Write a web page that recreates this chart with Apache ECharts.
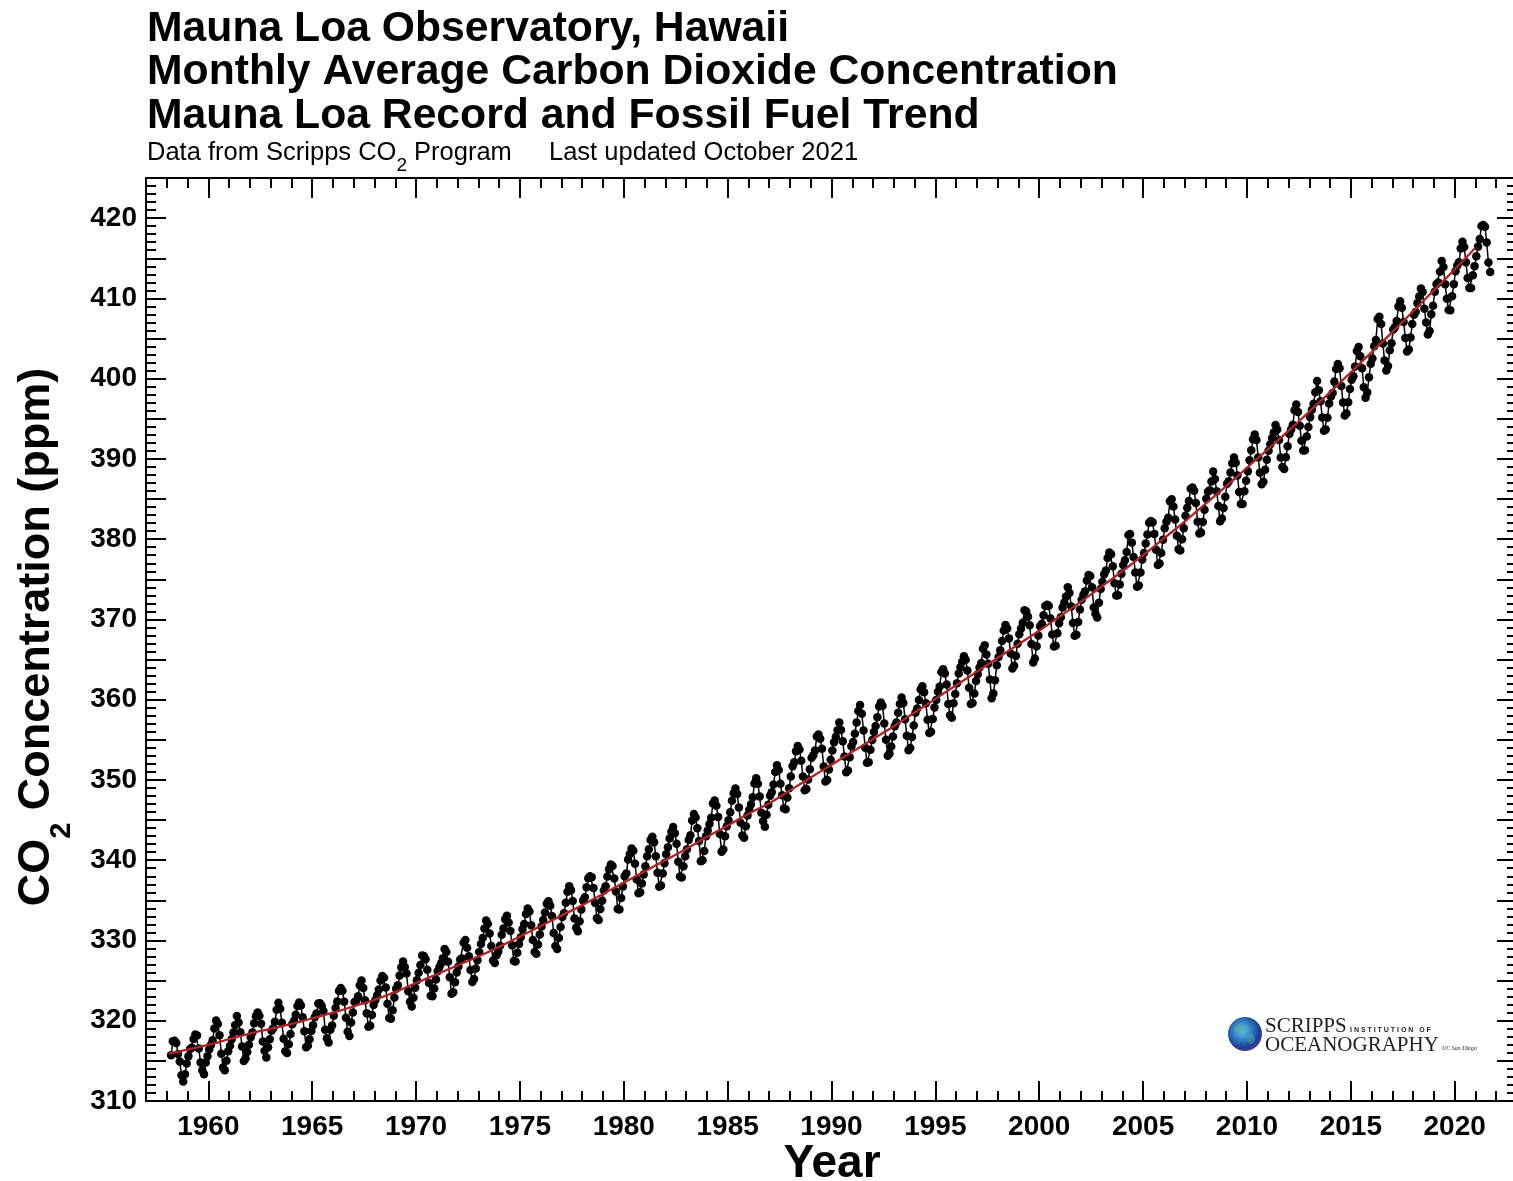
<!DOCTYPE html>
<html>
<head>
<meta charset="utf-8">
<title>Mauna Loa Observatory, Hawaii - Monthly Average Carbon Dioxide Concentration</title>
<script src="https://cdn.jsdelivr.net/npm/echarts@6/dist/echarts.min.js"></script>
<style>
  html, body { margin: 0; padding: 0; background: #ffffff; }
  #chart { width: 1513px; height: 1181px; }
</style>
</head>
<body>
<div id="chart"></div>
<script>
// Monthly mean CO2 at Mauna Loa (ppm), one row per calendar year, Jan..Dec (null = no record)
const firstYear = 1958;
const co2Monthly = [
  [null, null, 315.70, 317.45, 317.51, 317.24, 315.86, 314.93, 313.20, 312.43, 313.33, 314.67], // 1958
  [315.58, 316.48, 316.65, 317.72, 318.29, 318.15, 316.54, 314.80, 313.84, 313.33, 314.81, 315.58], // 1959
  [316.43, 316.98, 317.58, 319.03, 320.04, 319.59, 318.18, 315.90, 314.17, 313.83, 315.00, 316.19], // 1960
  [316.89, 317.70, 318.54, 319.48, 320.58, 319.77, 318.57, 316.79, 314.99, 315.31, 316.10, 317.01], // 1961
  [317.94, 318.55, 319.68, 320.57, 321.02, 320.62, 319.61, 317.40, 316.25, 315.42, 316.69, 317.70], // 1962
  [318.74, 319.07, 319.86, 321.38, 322.25, 321.48, 319.74, 317.77, 316.21, 315.99, 317.07, 318.35], // 1963
  [319.57, 320.01, 320.74, 321.84, 322.26, 321.89, 320.44, 318.69, 316.70, 316.87, 317.68, 318.71], // 1964
  [319.44, 320.44, 320.89, 322.14, 322.17, 321.87, 321.21, 318.87, 317.82, 317.30, 318.87, 319.42], // 1965
  [320.62, 321.60, 322.39, 323.70, 324.08, 323.75, 322.38, 320.36, 318.64, 318.10, 319.78, 321.03], // 1966
  [322.33, 322.50, 323.04, 324.42, 325.00, 324.09, 322.54, 320.92, 319.25, 319.39, 320.73, 321.96], // 1967
  [322.57, 323.15, 323.89, 325.02, 325.57, 325.36, 324.14, 322.11, 320.33, 320.25, 321.32, 322.89], // 1968
  [324.00, 324.42, 325.63, 326.66, 327.38, 326.71, 325.88, 323.66, 322.38, 321.78, 322.85, 324.12], // 1969
  [325.06, 325.98, 326.93, 328.13, 328.08, 327.67, 326.34, 324.69, 323.10, 323.06, 324.01, 325.13], // 1970
  [326.17, 326.68, 327.17, 327.79, 328.93, 328.57, 327.36, 325.43, 323.36, 323.56, 324.80, 326.01], // 1971
  [326.77, 327.63, 327.75, 329.72, 330.07, 329.09, 328.04, 326.32, 324.84, 325.20, 326.50, 327.55], // 1972
  [328.55, 329.56, 330.30, 331.50, 332.48, 332.07, 330.87, 329.31, 327.51, 327.18, 328.16, 328.64], // 1973
  [329.35, 330.71, 331.48, 332.65, 333.09, 332.25, 331.18, 329.40, 327.43, 327.37, 328.46, 329.57], // 1974
  [330.40, 331.40, 332.04, 333.31, 333.97, 333.60, 331.90, 330.06, 328.56, 328.34, 329.49, 330.76], // 1975
  [331.75, 332.56, 333.50, 334.58, 334.88, 334.33, 333.05, 330.94, 329.30, 328.94, 330.31, 331.68], // 1976
  [332.93, 333.42, 334.70, 336.07, 336.75, 336.27, 334.92, 332.75, 331.59, 331.16, 332.40, 333.85], // 1977
  [334.97, 335.39, 336.64, 337.76, 338.01, 337.89, 336.54, 334.68, 332.76, 332.55, 333.92, 334.95], // 1978
  [336.23, 336.76, 337.96, 338.88, 339.47, 339.29, 337.73, 336.09, 333.92, 333.86, 335.29, 336.73], // 1979
  [338.01, 338.36, 340.08, 340.77, 341.46, 341.17, 339.56, 337.60, 335.88, 336.02, 337.10, 338.21], // 1980
  [339.24, 340.48, 341.38, 342.51, 342.91, 342.25, 340.49, 338.43, 336.69, 336.85, 338.36, 339.61], // 1981
  [340.75, 341.61, 342.70, 343.56, 344.13, 343.35, 342.06, 339.82, 337.97, 337.86, 339.26, 340.49], // 1982
  [341.38, 342.52, 343.10, 344.94, 345.75, 345.32, 343.99, 342.39, 339.86, 339.99, 341.16, 342.99], // 1983
  [343.70, 344.51, 345.28, 347.08, 347.43, 346.79, 345.40, 343.28, 341.07, 341.35, 342.98, 344.22], // 1984
  [344.97, 345.99, 347.42, 348.35, 348.93, 348.25, 346.56, 344.67, 343.09, 342.80, 344.24, 345.56], // 1985
  [346.29, 346.96, 347.86, 349.55, 350.21, 349.54, 347.94, 345.91, 344.86, 344.17, 345.66, 346.90], // 1986
  [348.02, 348.47, 349.42, 350.99, 351.84, 351.25, 349.52, 348.10, 346.44, 346.36, 347.81, 348.96], // 1987
  [350.43, 351.72, 352.22, 353.59, 354.22, 353.79, 352.39, 350.44, 348.72, 348.88, 350.07, 351.34], // 1988
  [352.76, 353.07, 353.68, 355.42, 355.67, 355.12, 353.90, 351.67, 349.80, 349.99, 351.30, 352.52], // 1989
  [353.66, 354.70, 355.39, 356.20, 357.16, 356.22, 354.82, 352.91, 350.96, 351.18, 352.83, 354.21], // 1990
  [354.72, 355.75, 357.16, 358.60, 359.34, 358.24, 356.17, 354.02, 352.15, 352.21, 353.75, 354.99], // 1991
  [355.98, 356.72, 357.81, 359.15, 359.66, 359.25, 357.02, 355.00, 353.01, 353.31, 354.16, 355.40], // 1992
  [356.70, 357.17, 358.38, 359.46, 360.28, 359.60, 357.57, 355.52, 353.69, 353.99, 355.34, 356.80], // 1993
  [358.37, 358.91, 359.97, 361.26, 361.69, 360.94, 359.55, 357.49, 355.84, 356.00, 357.58, 359.04], // 1994
  [359.97, 361.00, 361.64, 363.45, 363.79, 363.26, 361.90, 359.46, 358.06, 357.75, 359.56, 360.70], // 1995
  [362.05, 363.25, 364.03, 364.72, 365.41, 364.97, 363.65, 361.49, 359.46, 359.60, 360.76, 362.33], // 1996
  [363.18, 364.00, 364.57, 366.35, 366.79, 365.62, 364.47, 362.51, 360.19, 360.77, 362.43, 364.28], // 1997
  [365.32, 366.15, 367.31, 368.61, 369.30, 368.87, 367.64, 365.77, 363.90, 364.23, 365.46, 366.97], // 1998
  [368.15, 368.87, 369.59, 371.14, 371.00, 370.35, 369.27, 366.94, 364.63, 365.12, 366.67, 368.01], // 1999
  [369.14, 369.46, 370.52, 371.66, 371.82, 371.70, 370.12, 368.12, 366.62, 366.73, 368.29, 369.53], // 2000
  [370.28, 371.50, 372.12, 372.87, 374.02, 373.30, 371.62, 369.55, 367.96, 368.09, 369.68, 371.24], // 2001
  [372.44, 373.08, 373.52, 374.85, 375.55, 375.40, 374.02, 371.48, 370.70, 370.25, 372.08, 373.78], // 2002
  [374.68, 375.62, 376.11, 377.65, 378.35, 378.13, 376.62, 374.50, 372.99, 373.01, 374.35, 375.70], // 2003
  [376.79, 377.37, 378.41, 380.52, 380.63, 379.57, 377.79, 375.86, 374.06, 374.24, 375.86, 377.48], // 2004
  [378.29, 379.45, 380.59, 382.06, 382.26, 382.10, 380.66, 378.69, 376.79, 376.97, 378.29, 379.92], // 2005
  [381.35, 382.16, 382.66, 384.73, 384.98, 384.08, 382.46, 380.42, 378.74, 378.59, 379.99, 381.35], // 2006
  [382.91, 383.90, 384.76, 386.29, 386.44, 386.03, 384.52, 382.18, 380.71, 380.83, 382.13, 383.68], // 2007
  [385.05, 385.92, 386.11, 387.20, 388.44, 387.51, 385.98, 384.14, 382.24, 382.58, 383.88, 385.29], // 2008
  [386.90, 387.22, 388.32, 389.46, 390.18, 389.53, 387.94, 385.87, 384.39, 384.39, 385.98, 387.28], // 2009
  [388.45, 389.82, 391.08, 392.46, 393.05, 392.37, 390.19, 388.28, 386.83, 387.16, 388.64, 389.89], // 2010
  [391.01, 391.82, 392.60, 393.30, 394.21, 393.66, 392.37, 390.17, 388.99, 388.73, 390.20, 391.57], // 2011
  [393.11, 393.67, 394.27, 396.05, 396.78, 395.85, 394.12, 392.27, 391.05, 391.08, 392.79, 393.99], // 2012
  [395.19, 396.12, 396.87, 398.31, 399.72, 398.56, 397.17, 395.16, 393.52, 393.68, 395.13, 396.91], // 2013
  [397.79, 398.20, 399.63, 401.20, 401.83, 401.29, 399.09, 397.04, 395.40, 395.67, 397.05, 398.72], // 2014
  [399.85, 400.31, 401.51, 403.45, 403.94, 402.80, 401.29, 398.93, 397.63, 398.29, 400.16, 401.85], // 2015
  [402.52, 404.04, 404.83, 407.42, 407.70, 406.81, 404.39, 402.25, 401.03, 401.57, 403.53, 404.42], // 2016
  [406.13, 406.42, 407.18, 409.00, 409.65, 408.84, 407.07, 405.07, 403.38, 403.64, 405.14, 406.81], // 2017
  [407.96, 408.32, 409.41, 410.24, 411.24, 410.79, 408.71, 406.99, 405.51, 405.95, 408.02, 409.07], // 2018
  [410.83, 411.75, 411.97, 413.32, 414.66, 413.92, 411.77, 409.95, 408.54, 408.53, 410.27, 411.76], // 2019
  [413.39, 414.11, 414.51, 416.21, 417.07, 416.39, 414.51, 412.55, 411.29, 411.28, 412.89, 414.02], // 2020
  [415.24, 416.45, 417.41, 419.02, 419.13, 418.94, 416.96, 414.47, 413.30, null, null, null]  // 2021
];

// Fossil fuel trend curve (ppm) at the listed decimal years
const trendYears = [
  1958.1, 1959, 1960, 1961, 1962, 1963, 1964, 1965, 1966, 1967, 1968, 1969,
  1970, 1971, 1972, 1973, 1974, 1975, 1976, 1977, 1978, 1979,
  1980, 1981, 1982, 1983, 1984, 1985, 1986, 1987, 1988, 1989,
  1990, 1991, 1992, 1993, 1994, 1995, 1996, 1997, 1998, 1999,
  2000, 2001, 2002, 2003, 2004, 2005, 2006, 2007, 2008, 2009,
  2010, 2011, 2012, 2013, 2014, 2015, 2016, 2017, 2018, 2019,
  2020, 2021
];
const trendValues = [
  315.9, 316.4, 317.0, 317.7, 318.4, 319.0, 319.6, 320.3, 321.0, 321.8, 322.6, 323.6,
  324.7, 325.8, 326.9, 328.0, 329.2, 330.5, 331.8, 333.1, 334.4, 335.8,
  337.2, 338.6, 340.0, 341.4, 342.9, 344.3, 345.8, 347.1, 348.7, 350.3,
  351.9, 353.5, 355.1, 356.7, 358.4, 360.1, 361.8, 363.5, 365.2, 366.9,
  368.6, 370.4, 372.2, 374.1, 376.0, 378.0, 380.1, 382.2, 384.4, 386.6,
  388.9, 391.2, 393.5, 395.9, 398.3, 400.8, 403.3, 405.8, 408.4, 411.0,
  413.6, 416.3
];

// Axis ranges and labelled ticks
const yearMin = 1957, yearMax = 2023;
const ppmMin = 310, ppmMax = 425;
const yearLabels = [1960, 1965, 1970, 1975, 1980, 1985, 1990, 1995, 2000, 2005, 2010, 2015, 2020];
const ppmLabels = [310, 320, 330, 340, 350, 360, 370, 380, 390, 400, 410, 420];

const SANS = '"Liberation Sans", Arial, Helvetica, sans-serif';
const SERIF = '"Liberation Serif", "Times New Roman", serif';

// monthly points placed at mid-month
const monthlyPoints = [];
co2Monthly.forEach(function (row, i) {
  row.forEach(function (v, m) {
    if (v !== null) monthlyPoints.push([firstYear + i + (m + 0.5) / 12, v]);
  });
});
const trendPoints = trendYears.map(function (t, i) { return [t, trendValues[i]]; });

const frame = { show: true, lineStyle: { color: '#000', width: 2 } };
const tickStyle = { color: '#000', width: 2 };
const labelFont = { color: '#000', fontFamily: SANS, fontWeight: 'bold', fontSize: 28 };
const plainNumber = function (v) { return String(v); };

function xAxisDef(position, major, withLabels) {
  const ax = {
    type: 'value', position: position, min: yearMin, max: yearMax,
    axisLine: major ? frame : { show: false },
    splitLine: { show: false },
    axisTick: { show: true, inside: true, length: major ? 20 : 10, lineStyle: tickStyle },
    axisLabel: { show: false }
  };
  if (major) {
    ax.axisTick.customValues = yearLabels;
    ax.axisLabel = Object.assign({ show: withLabels, margin: 12, customValues: yearLabels, formatter: plainNumber }, labelFont);
  } else {
    ax.interval = 1;
  }
  return ax;
}

function yAxisDef(position, major, withLabels) {
  const ax = {
    type: 'value', position: position, min: ppmMin, max: ppmMax,
    axisLine: major ? frame : { show: false },
    splitLine: { show: false },
    axisTick: { show: true, inside: true, length: major ? 20 : 10, lineStyle: tickStyle },
    axisLabel: { show: false }
  };
  ax.interval = major ? 5 : 1;
  if (major) {
    ax.axisLabel = Object.assign({ show: withLabels, margin: 9, customValues: ppmLabels, formatter: plainNumber }, labelFont);
  }
  return ax;
}

const chart = echarts.init(document.getElementById('chart'), null, { renderer: 'canvas' });

chart.setOption({
  backgroundColor: '#ffffff',
  animation: false,
  grid: { left: 146, top: 178, width: 1371, height: 923, containLabel: false, outerBoundsMode: 'none' },
  xAxis: [
    xAxisDef('bottom', true, true),
    xAxisDef('bottom', false, false),
    xAxisDef('top', true, false),
    xAxisDef('top', false, false)
  ],
  yAxis: [
    yAxisDef('left', true, true),
    yAxisDef('left', false, false),
    yAxisDef('right', true, false),
    yAxisDef('right', false, false)
  ],
  graphic: [
    { type: 'text', x: 147, y: 29, style: { text: 'Mauna Loa Observatory, Hawaii', font: 'bold 42.7px ' + SANS, fill: '#000', textVerticalAlign: 'middle' } },
    { type: 'text', x: 147, y: 72, style: { text: 'Monthly Average Carbon Dioxide Concentration', font: 'bold 42.7px ' + SANS, fill: '#000', textVerticalAlign: 'middle' } },
    { type: 'text', x: 147, y: 116, style: { text: 'Mauna Loa Record and Fossil Fuel Trend', font: 'bold 42.7px ' + SANS, fill: '#000', textVerticalAlign: 'middle' } },
    {
      type: 'text', x: 147, y: 153,
      style: {
        text: '{a|Data from Scripps CO}{s|2}{a| Program}',
        textVerticalAlign: 'middle',
        rich: {
          a: { fontFamily: SANS, fontSize: 25.5, lineHeight: 26, fill: '#000', color: '#000', verticalAlign: 'middle' },
          s: { fontFamily: SANS, fontSize: 19, lineHeight: 19, fill: '#000', color: '#000', verticalAlign: 'middle', padding: [26, 0, 0, 0] }
        }
      }
    },
    { type: 'text', x: 549, y: 153, style: { text: 'Last updated October 2021', font: '25.5px ' + SANS, fill: '#000', textVerticalAlign: 'middle' } },
    {
      type: 'text', x: 37, y: 637, rotation: Math.PI / 2,
      style: {
        text: '{a|CO}{s|2}{a| Concentration (ppm)}',
        textAlign: 'center', textVerticalAlign: 'middle',
        rich: {
          a: { fontFamily: SANS, fontWeight: 'bold', fontSize: 45, lineHeight: 45, fill: '#000', color: '#000', verticalAlign: 'middle' },
          s: { fontFamily: SANS, fontWeight: 'bold', fontSize: 29, lineHeight: 29, fill: '#000', color: '#000', verticalAlign: 'middle', padding: [50, 0, 0, 0] }
        }
      }
    },
    { type: 'text', x: 832, y: 1164, style: { text: 'Year', font: 'bold 46px ' + SANS, fill: '#000', textAlign: 'center', textVerticalAlign: 'middle' } },
    // Scripps Institution of Oceanography mark
    {
      type: 'circle', shape: { cx: 1245, cy: 1034, r: 17 },
      style: {
        fill: {
          type: 'radial', x: 0.42, y: 0.4, r: 0.62,
          colorStops: [
            { offset: 0, color: '#6cc7ea' },
            { offset: 0.45, color: '#2f7fc4' },
            { offset: 0.8, color: '#1e3f93' },
            { offset: 1, color: '#4a3a96' }
          ]
        }
      }
    },
    { type: 'ellipse', shape: { cx: 1240, cy: 1029, rx: 6, ry: 4 }, style: { fill: 'rgba(80,170,150,0.55)' } },
    { type: 'ellipse', shape: { cx: 1251, cy: 1039, rx: 4, ry: 5 }, style: { fill: 'rgba(80,170,150,0.45)' } },
    { type: 'text', x: 1265, y: 1026, style: { text: 'SCRIPPS', font: '21px ' + SERIF, fill: '#222', textVerticalAlign: 'middle' } },
    { type: 'text', x: 1350, y: 1030, style: { text: 'I N S T I T U T I O N   O F', font: 'bold 7px ' + SANS, fill: '#222', textVerticalAlign: 'middle' } },
    { type: 'text', x: 1265, y: 1045, style: { text: 'OCEANOGRAPHY', font: '21px ' + SERIF, fill: '#222', textVerticalAlign: 'middle' } },
    { type: 'text', x: 1442, y: 1048, style: { text: 'UC San Diego', font: 'italic 6px ' + SERIF, fill: '#222', textVerticalAlign: 'middle' } }
  ],
  series: [
    {
      name: 'Monthly CO2',
      type: 'line',
      xAxisIndex: 0, yAxisIndex: 0,
      data: monthlyPoints,
      symbol: 'circle', symbolSize: 8.5,
      showSymbol: true, showAllSymbol: true,
      lineStyle: { color: '#000', width: 1.5 },
      itemStyle: { color: '#000' },
      emphasis: { disabled: true },
      z: 2
    },
    {
      name: 'Fossil fuel trend',
      type: 'line',
      xAxisIndex: 0, yAxisIndex: 0,
      data: trendPoints,
      smooth: true,
      symbol: 'none',
      lineStyle: { color: '#b02226', width: 2.3 },
      emphasis: { disabled: true },
      z: 3
    }
  ]
});
</script>
</body>
</html>
